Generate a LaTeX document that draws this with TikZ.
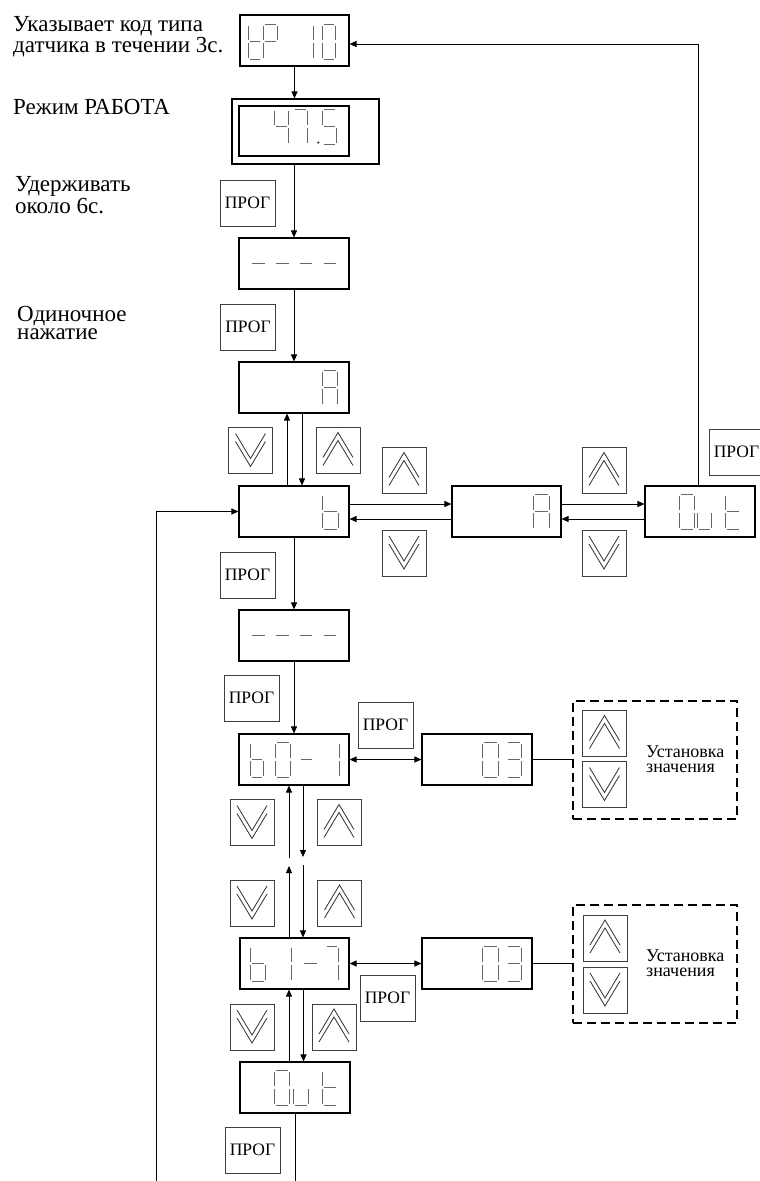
\documentclass[tikz,border=0pt]{standalone}
\usepackage{fontspec}
\setmainfont{Liberation Serif}
\usetikzlibrary{arrows.meta,calc}

\makeatletter
\newcommand{\dig}[5]{% x, y(top), w, h, segments
  \begin{scope}[shift={(#1,#2)}]
  \in@{a}{#5}\ifin@\draw[seg] (1.5,0) -- (#3-1.5,0);\fi
  \in@{b}{#5}\ifin@\draw[seg] (#3,1.5) -- (#3,#4/2-1.5);\fi
  \in@{c}{#5}\ifin@\draw[seg] (#3,#4/2+1.5) -- (#3,#4-1.5);\fi
  \in@{d}{#5}\ifin@\draw[seg] (1.5,#4) -- (#3-1.5,#4);\fi
  \in@{e}{#5}\ifin@\draw[seg] (0,#4/2+1.5) -- (0,#4-1.5);\fi
  \in@{f}{#5}\ifin@\draw[seg] (0,1.5) -- (0,#4/2-1.5);\fi
  \in@{g}{#5}\ifin@\draw[seg] (1.5,#4/2) -- (#3-1.5,#4/2);\fi
  \end{scope}}
\makeatother

\newcommand{\upbtn}[3]{%
  \node[btn] (#1) at (#2,#3) {};
  \draw[chev] ($(#1.center)+(-15,7)$) -- ($(#1.center)+(0,-18)$) -- ($(#1.center)+(15,7)$);
  \draw[chev] ($(#1.center)+(-15,15)$) -- ($(#1.center)+(0,-10)$) -- ($(#1.center)+(15,15)$);}
\newcommand{\downbtn}[3]{%
  \node[btn] (#1) at (#2,#3) {};
  \draw[chev] ($(#1.center)+(-15,-17)$) -- ($(#1.center)+(0,8)$) -- ($(#1.center)+(15,-17)$);
  \draw[chev] ($(#1.center)+(-15,-9)$) -- ($(#1.center)+(0,16)$) -- ($(#1.center)+(15,-9)$);}

\begin{document}
\begin{tikzpicture}[x=1pt,y=-1pt,
  disp/.style={draw=black,line width=1.1pt,minimum width=110pt,minimum height=51pt,inner sep=0pt},
  seg/.style={draw=black!60,line width=0.9pt},
  btn/.style={draw=black!75,line width=0.9pt,minimum width=44pt,minimum height=46pt,inner sep=0pt},
  chev/.style={draw=black!80,line width=0.8pt},
  prog/.style={draw=black!75,line width=0.9pt,minimum width=55pt,minimum height=46pt,inner sep=0pt,font=\fontsize{17.5}{20}\selectfont},
  lbl/.style={anchor=base west,inner sep=0pt,align=left,font=\fontsize{23}{18}\selectfont},
  slbl/.style={anchor=base west,inner sep=0pt,align=left,font=\fontsize{18}{15}\selectfont},
  selbox/.style={draw=black,line width=1.6pt,dash pattern=on 9pt off 5pt,minimum width=164pt,minimum height=118pt,inner sep=0pt},
  arr/.style={draw=black,line width=0.9pt,-{Triangle[length=7pt,width=6pt]}},
  arrb/.style={draw=black,line width=0.9pt,{Triangle[length=7pt,width=6pt]}-{Triangle[length=7pt,width=6pt]}},
  conn/.style={draw=black,line width=0.9pt}]

\fill[white] (0,0) rectangle (760,1181);
\useasboundingbox (0,0) rectangle (760,1181);

% ---------- labels (anchor = baseline of last line) ----------
\node[lbl] (t1) at (13,52) {Указывает код типа\\датчика в течении 3с.};
\node[lbl] (t2) at (13,114) {Режим РАБОТА};
\node[lbl] (t3) at (15,213) {Удерживать\\около 6с.};
\node[lbl] (t4) at (17,339) {Одиночное\\нажатие};

% ---------- displays ----------
\node[disp,minimum width=109pt] (tp) at (294.5,40.5) {};
\dig{248}{24}{13}{35}{defg}
\dig{263}{24}{14}{35}{abefg}
\dig{299}{24}{14}{35}{bc}
\dig{322}{24}{13}{35}{abcdef}

\node[disp,minimum width=147pt,minimum height=65pt] (run) at (305.5,131.5) {};
\node[disp,minimum height=50pt] (runin) at (294,131) {};
\dig{274}{109}{14}{35}{bcfg}
\dig{293}{109}{14}{35}{abc}
\dig{322}{109}{14}{35}{acdfg}
\fill[black!70] (318.3,142.5) circle (1.3);

\node[disp] (dash1) at (294,263.5) {};
\foreach \xx in {250.5,274.5,298,322} {\dig{\xx}{246}{15.5}{35}{g}}

\node[disp] (Abox) at (294,387.5) {};
\dig{322}{370}{15.5}{35}{abcefg}

\node[disp] (bbox) at (294,511.5) {};
\dig{322}{494}{16}{35}{cdefg}

\node[disp,minimum width=109pt] (A2) at (506.5,511.5) {};
\dig{533}{494}{16}{35}{abcefg}

\node[disp] (out1) at (700,511.5) {};
\dig{679}{494}{15}{35}{abcdef}
\dig{697}{494}{14}{35}{cde}
\dig{725}{494}{15}{35}{defg}

\node[disp] (dash2) at (294,635.5) {};
\foreach \xx in {250.5,274.5,298,322} {\dig{\xx}{618}{15.5}{35}{g}}

\node[disp] (b01) at (294,759.5) {};
\dig{250.5}{742}{13}{35}{cdefg}
\dig{275}{742}{15}{35}{abcdef}
\dig{299.5}{742}{14}{35}{g}
\dig{325}{742}{14}{35}{bc}

\node[disp] (v1) at (477,759.5) {};
\dig{482}{742}{16}{35}{abcdef}
\dig{506}{742}{15}{35}{abcdg}

\node[disp,minimum width=109pt] (b17) at (294.5,963.5) {};
\dig{250}{946}{15}{35}{cdefg}
\dig{277}{946}{14}{35}{bc}
\dig{302}{946}{16}{35}{g}
\dig{325}{946}{13}{35}{abc}

\node[disp] (v2) at (477,963.5) {};
\dig{482}{946}{16}{35}{abcdef}
\dig{506}{946}{15}{35}{abcdg}

\node[disp] (out2) at (295,1087.5) {};
\dig{274}{1070}{15}{35}{abcdef}
\dig{293.5}{1070}{14.5}{35}{cde}
\dig{322}{1070}{15.5}{35}{defg}

% ---------- buttons ----------
\node[prog] (p1) at (247.5,203) {ПРОГ};
\node[prog] (p2) at (248,327) {ПРОГ};
\node[prog] (p3) at (247.5,575) {ПРОГ};
\node[prog] (p4) at (251.5,698) {ПРОГ};
\node[prog] (p5) at (385.5,725) {ПРОГ};
\node[prog] (p6) at (387.5,998) {ПРОГ};
\node[prog] (p7) at (252.5,1150) {ПРОГ};
\node[prog] (p8) at (736.5,452) {ПРОГ};

\downbtn{dA}{250.5}{450.5}
\upbtn{uA}{338}{450.5}
\upbtn{uB}{404}{470.5}
\downbtn{dB}{404}{553}
\upbtn{uC}{604}{470.5}
\downbtn{dC}{604}{553}
\downbtn{dD}{252}{822.5}
\upbtn{uD}{339}{822.5}
\downbtn{dE}{252}{903}
\upbtn{uE}{339.5}{903}
\downbtn{dF}{252}{1027}
\upbtn{uF}{334}{1027}

% ---------- value setting boxes ----------
\node[selbox] (sel1) at (655,760) {};
\upbtn{uS1}{604.5}{733.5}
\downbtn{dS1}{604.5}{784.5}
\node[slbl] (s1) at (646,772.5) {Установка\\значения};

\node[selbox] (sel2) at (655,964) {};
\upbtn{uS2}{605}{938}
\downbtn{dS2}{605}{990}
\node[slbl] (s2) at (646,976.5) {Установка\\значения};

% ---------- connectors ----------
\draw[arr] ([xshift=-2pt]out1.north) |- ([yshift=-3.5pt]tp.east);
\draw[arr] (tp.south) -- (tp.south |- run.north);
\draw[arr] (run.south -| dash1.north) -- (dash1.north);
\draw[arr] (dash1.south) -- (Abox.north);
\draw[arr] ([xshift=-7pt]bbox.north) -- ([xshift=-7pt]Abox.south);
\draw[arr] ([xshift=8pt]Abox.south) -- ([xshift=8pt]bbox.north);
\draw[arr] ([yshift=7.5pt]bbox.east) -- ([yshift=7.5pt]bbox.east -| A2.west);
\draw[arr] ([yshift=-7.5pt]A2.west) -- ([yshift=-7.5pt]A2.west -| bbox.east);
\draw[arr] ([yshift=7.5pt]A2.east) -- ([yshift=7.5pt]A2.east -| out1.west);
\draw[arr] ([yshift=-7.5pt]out1.west) -- ([yshift=-7.5pt]out1.west -| A2.east);
\coordinate (loopstart) at (156,1181);
\draw[arr] (loopstart) |- (bbox.west);
\draw[arr] (bbox.south) -- (dash2.north);
\draw[arr] (dash2.south) -- (b01.north);
\draw[arrb] (b01.east) -- (v1.west);
\draw[conn] (v1.east) -- (v1.east -| sel1.west);
\coordinate (u1) at (289,858);
\coordinate (d1) at (303,857);
\coordinate (u2) at (289,866);
\coordinate (d2) at (303,865);
\draw[arr] (u1) -- (u1 |- b01.south);
\draw[arr] (d1 |- b01.south) -- (d1);
\draw[arr] (u2 |- b17.north) -- (u2);
\draw[arr] (d2) -- (d2 |- b17.north);
\draw[arrb] (b17.east) -- (v2.west);
\draw[conn] (v2.east) -- (v2.east -| sel2.west);
\draw[arr] ([xshift=-6pt]out2.north) -- ([xshift=-6pt]out2.north |- b17.south);
\draw[arr] ([xshift=9pt]b17.south) -- ([xshift=9pt]b17.south |- out2.north);
\coordinate (bottomend) at (295,1181);
\draw[conn] (out2.south) -- (bottomend);
\end{tikzpicture}
\end{document}
